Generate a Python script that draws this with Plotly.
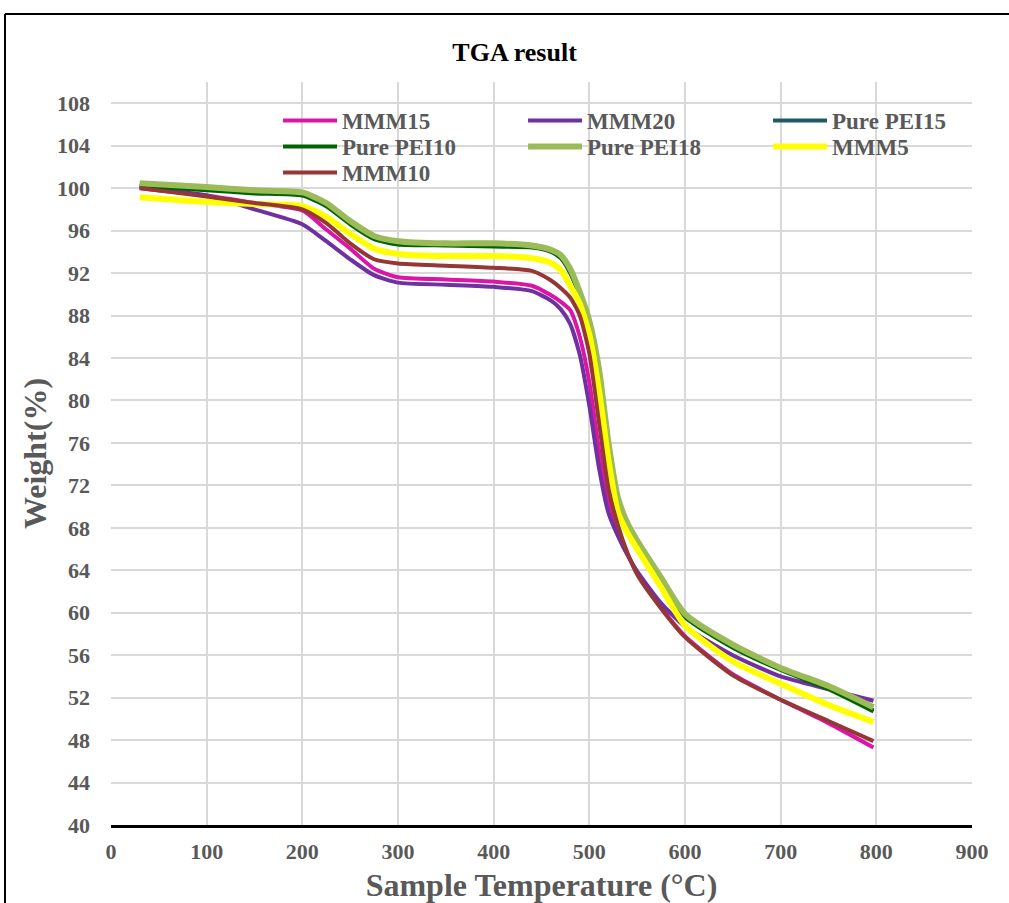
import plotly.graph_objects as go

temperature = [30, 100, 150, 200, 225, 250, 275, 300, 350, 400, 440, 460, 470, 480, 490,
               500, 510, 520, 530, 540, 550, 575, 600, 650, 700, 750, 797]

mmm15 = [100.0, 99.3, 98.6, 97.9, 96.1, 94.3, 92.4, 91.6, 91.4, 91.2, 90.8, 89.9, 89.3, 88.5, 86.0,
         81.7, 75.4, 70.4, 67.5, 65.5, 63.8, 60.5, 57.8, 54.2, 51.8, 49.6, 47.3]
mmm20 = [100.1, 99.3, 98.0, 96.6, 95.0, 93.3, 91.8, 91.1, 90.9, 90.7, 90.3, 89.4, 88.6, 87.2, 84.3,
         79.5, 73.7, 69.4, 67.2, 65.4, 63.9, 60.9, 58.7, 56.0, 54.0, 52.8, 51.7]
pei15 = [100.3, 99.9, 99.6, 99.4, 98.4, 96.7, 95.3, 94.8, 94.7, 94.6, 94.5, 94.1, 93.5, 92.1, 89.9,
         87.1, 82.5, 75.7, 70.5, 68.2, 66.6, 63.1, 59.7, 56.8, 54.7, 52.9, 50.8]
pei10 = [100.2, 99.8, 99.5, 99.3, 98.3, 96.6, 95.2, 94.7, 94.6, 94.5, 94.4, 94.0, 93.4, 92.0, 89.8,
         87.0, 82.3, 75.5, 70.4, 68.1, 66.5, 63.0, 59.6, 56.7, 54.6, 52.8, 50.7]
pei18 = [100.45, 100.1, 99.8, 99.6, 98.6, 96.9, 95.5, 95.0, 94.8, 94.8, 94.6, 94.2, 93.7, 92.4, 90.2,
         87.5, 83.0, 76.0, 70.8, 68.4, 66.8, 63.3, 59.9, 57.0, 54.8, 53.1, 51.1]
mmm5 = [99.15, 98.7, 98.5, 98.3, 97.3, 95.7, 94.3, 93.8, 93.6, 93.6, 93.4, 92.95, 92.3, 90.8, 89.1,
        86.2, 81.0, 74.4, 69.4, 67.5, 66.0, 62.4, 58.8, 55.4, 53.3, 51.3, 49.7]
mmm10 = [100.0, 99.2, 98.6, 98.0, 96.7, 94.8, 93.3, 92.9, 92.7, 92.5, 92.2, 91.3, 90.6, 89.7, 88.0,
         84.4, 78.0, 71.7, 68.2, 65.6, 63.6, 60.4, 57.7, 54.1, 51.8, 49.8, 47.9]

series_names = ["MMM15", "MMM20", "Pure PEI15", "Pure PEI10", "Pure PEI18", "MMM5", "MMM10"]
series_values = [mmm15, mmm20, pei15, pei10, pei18, mmm5, mmm10]
series_colors = ["#d916a8", "#7030a0", "#215968", "#006400", "#9bbb59", "#ffff00", "#953735"]
series_widths = [4, 4, 4, 4, 6, 6, 4]
legend_rows = ["legend", "legend", "legend", "legend2", "legend2", "legend2", "legend3"]

x_ticks = list(range(0, 901, 100))
y_ticks = list(range(40, 109, 4))

fig = go.Figure()
for name, vals, color, width, lg in zip(series_names, series_values, series_colors,
                                        series_widths, legend_rows):
    fig.add_trace(go.Scatter(
        x=temperature, y=vals, mode="lines", name=name, legend=lg,
        line=dict(color=color, width=width, shape="spline", smoothing=0.6),
    ))

serif = "Times New Roman, Liberation Serif, serif"
grey = "#595959"

legend_font = dict(family=serif, size=23, color=grey, weight="bold")
legend_common = dict(orientation="h", x=0.194, xanchor="left", yanchor="top",
                     bgcolor="rgba(0,0,0,0)", font=legend_font,
                     entrywidth=176, entrywidthmode="pixels", itemwidth=54)

fig.update_layout(
    width=1009, height=903,
    margin=dict(l=111, r=37, t=82, b=78, autoexpand=False),
    paper_bgcolor="white", plot_bgcolor="white",
    font=dict(family=serif, color=grey),
    title=dict(text="<b>TGA result</b>", font=dict(family=serif, size=26, color="black"),
               x=0.51, xref="container", xanchor="center",
               y=1 - 52 / 903, yref="container", yanchor="middle"),
    legend=dict(y=(825 - 99) / 743, **legend_common),
    legend2=dict(y=(825 - 125) / 743, **legend_common),
    legend3=dict(y=(825 - 151) / 743, **legend_common),
    showlegend=True,
)

fig.update_xaxes(
    range=[0, 900], tickvals=x_ticks, ticktext=[str(v) for v in x_ticks],
    showgrid=True, gridcolor="#d9d9d9", gridwidth=2,
    showline=True, linecolor="black", linewidth=3,
    zeroline=False, ticks="", ticklabelstandoff=5, automargin=False,
    tickfont=dict(family=serif, size=22, color=grey, weight="bold"),
    title=dict(text="<b>Sample Temperature (°C)</b>", standoff=13,
               font=dict(family=serif, size=32, color=grey)),
)
fig.update_yaxes(
    range=[40, 110], tickvals=y_ticks, ticktext=[str(v) for v in y_ticks],
    showgrid=True, gridcolor="#d9d9d9", gridwidth=2,
    showline=False, zeroline=False, ticks="", ticklabelstandoff=20, automargin=False,
    tickfont=dict(family=serif, size=22, color=grey, weight="bold"),
    title=dict(text="<b>Weight(%)</b>", standoff=0,
               font=dict(family=serif, size=32, color=grey)),
)

fig.add_shape(type="line", xref="paper", yref="paper",
              x0=(5 - 111) / 861, x1=(1009 - 111) / 861,
              y0=(825 - 14) / 743, y1=(825 - 14) / 743,
              line=dict(color="black", width=2))
fig.add_shape(type="line", xref="paper", yref="paper",
              x0=(5 - 111) / 861, x1=(5 - 111) / 861,
              y0=(825 - 14) / 743, y1=(825 - 903) / 743,
              line=dict(color="black", width=2))

fig.write_html("out.html", config={"displayModeBar": False},
               post_script="document.body.style.margin='0';")
